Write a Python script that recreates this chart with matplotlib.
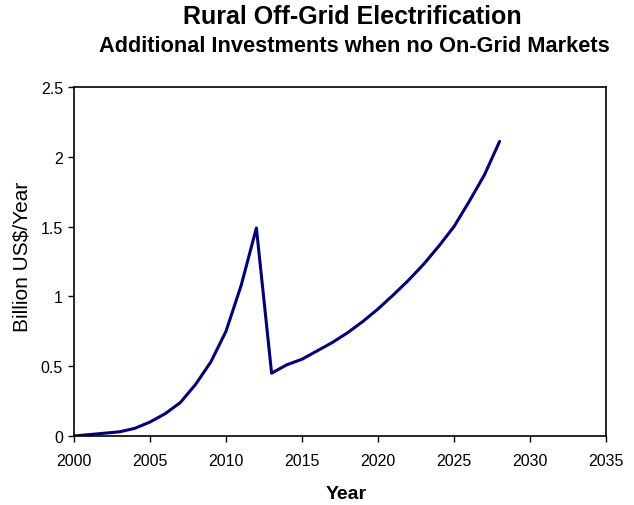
import matplotlib
matplotlib.use("Agg")
import matplotlib.pyplot as plt
from matplotlib.ticker import FuncFormatter
from matplotlib.transforms import Bbox

years = list(range(2000, 2029))
investment = [0.0, 0.01, 0.02, 0.03, 0.055, 0.10, 0.16, 0.24, 0.37, 0.53, 0.75, 1.08, 1.49,
              0.45, 0.51, 0.55, 0.61, 0.67, 0.74, 0.82, 0.91, 1.01, 1.115, 1.23, 1.36, 1.50,
              1.68, 1.87, 2.11]
x_ticks = [2000, 2005, 2010, 2015, 2020, 2025, 2030, 2035]
y_ticks = [0, 0.5, 1, 1.5, 2, 2.5]

plt.rcParams['font.family'] = ['Liberation Sans', 'DejaVu Sans']

W, H = 634, 506
fig = plt.figure(figsize=(W/100, H/100), dpi=100)
ax = fig.add_axes([74/W, (H-437)/H, (606-74)/W, (437-88)/H])
ax.plot(years, investment, color='#000080', linewidth=2.2, solid_joinstyle='round',
        solid_capstyle='round')
ax.set_xlim(2000, 2035)
ax.set_ylim(0, 2.5)
ax.set_xticks(x_ticks)
ax.set_yticks(y_ticks)
ax.yaxis.set_major_formatter(FuncFormatter(lambda v, p: f"{v:g}"))
ax.tick_params(direction='out', length=4, width=1, labelsize=11.5)
ax.tick_params(axis='x', pad=8)
ax.tick_params(axis='y', pad=4)
for s in ax.spines.values():
    s.set_linewidth(1.2)
    s.set_color('black')

fig.text(346/W, 1 - 495/H, 'Year', ha='center', va='center', fontsize=14, fontweight='bold')
ylab = fig.text(22/W, 1 - 257/H, 'Billion US$/Year', ha='center', va='center',
                rotation=90, fontsize=15)
ylab.set_clip_box(Bbox.from_extents(0, 0, W, H - 183))
ylab.set_clip_on(True)

fig.text(352/W, 1 - 17/H, 'Rural Off-Grid Electrification', ha='center', va='center',
         fontsize=18, fontweight='bold')
fig.text(354/W, 1 - 47/H, 'Additional Investments when no On-Grid Markets', ha='center',
         va='center', fontsize=15.7, fontweight='bold')

fig.savefig('out.png', dpi=100)
